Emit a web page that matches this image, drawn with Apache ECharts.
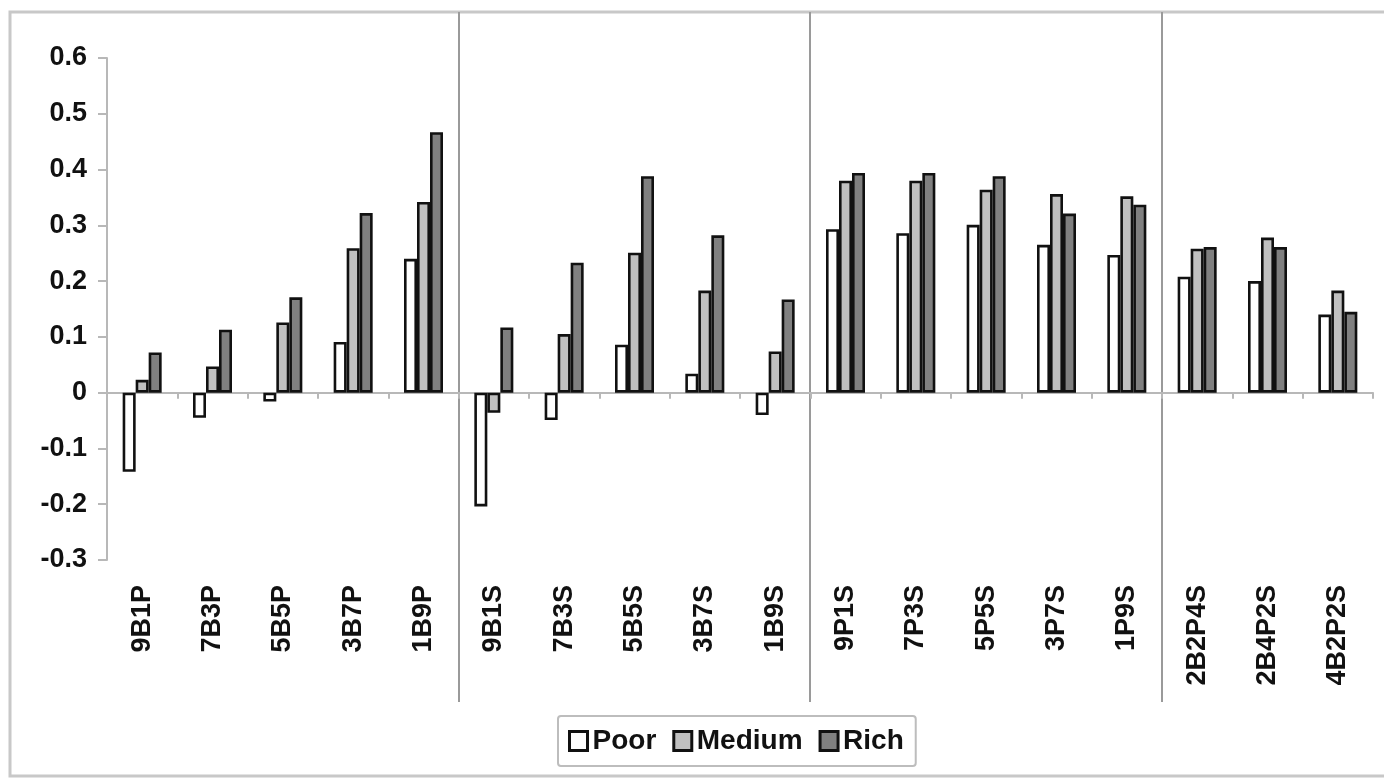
<!DOCTYPE html>
<html>
<head>
<meta charset="utf-8">
<script src="https://cdn.jsdelivr.net/npm/echarts@6/dist/echarts.min.js"></script>
<style>
	html, body { margin: 0; padding: 0; background: #fff; }
	#chart { width: 1384px; height: 778px; }
</style>
</head>
<body>
<div id="chart"></div>
<script>
const categories = [
	"9B1P", "7B3P", "5B5P", "3B7P", "1B9P",
	"9B1S", "7B3S", "5B5S", "3B7S", "1B9S",
	"9P1S", "7P3S", "5P5S", "3P7S", "1P9S",
	"2B2P4S", "2B4P2S", "4B2P2S"
];
const poor = [
	-0.142, -0.045, -0.016, 0.091, 0.240,
	-0.204, -0.049, 0.086, 0.034, -0.040,
	0.293, 0.286, 0.301, 0.265, 0.247,
	0.208, 0.200, 0.140
];
const medium = [
	0.023, 0.047, 0.126, 0.259, 0.342,
	-0.036, 0.105, 0.251, 0.183, 0.074,
	0.380, 0.380, 0.364, 0.356, 0.352,
	0.258, 0.278, 0.183
];
const rich = [
	0.072, 0.113, 0.171, 0.322, 0.467,
	0.117, 0.233, 0.388, 0.282, 0.167,
	0.394, 0.394, 0.388, 0.321, 0.337,
	0.261, 0.261, 0.145
];
// index where each new group of categories starts
const groupStarts = [5, 10, 15];

const font = "Liberation Sans, Arial, sans-serif";
const textColor = "#111";

const chart = echarts.init(document.getElementById("chart"));

function barSeries(name, data, color) {
	return {
		name: name,
		type: "bar",
		xAxisIndex: 0,
		data: data,
		barWidth: 13,
		barGap: "0%",
		itemStyle: {
			color: color,
			borderColor: "#111",
			borderWidth: 2.6
		}
	};
}

const option = {
	animation: false,
	backgroundColor: "#fff",
	grid: {
		left: 107,
		right: 11,
		top: 58,
		bottom: 218
	},
	legend: {
		left: 558,
		top: 716,
		padding: [11, 12, 11, 10],
		borderColor: "#bdbdbd",
		borderWidth: 2,
		borderRadius: 3,
		itemWidth: 18,
		itemHeight: 19,
		itemGap: 16,
		icon: "rect",
		itemStyle: {
			borderColor: "#111",
			borderWidth: 3
		},
		textStyle: {
			fontFamily: font,
			fontWeight: "bold",
			fontSize: 28,
			color: textColor,
			padding: [0, 0, 0, 0]
		},
		data: ["Poor", "Medium", "Rich"]
	},
	xAxis: [
		{
			type: "category",
			position: "bottom",
			data: categories,
			axisLine: {
				onZero: true,
				lineStyle: { color: "#b8b8b8", width: 2 }
			},
			axisTick: {
				show: true,
				length: 6,
				lineStyle: { color: "#b8b8b8", width: 2 }
			},
			axisLabel: { show: false },
			splitLine: { show: false }
		},
		{
			type: "category",
			position: "bottom",
			data: categories,
			axisLine: { show: false, onZero: false },
			axisTick: { show: false },
			axisLabel: {
				rotate: 90,
				margin: 25,
				fontFamily: font,
				fontWeight: "bold",
				fontSize: 27,
				color: textColor
			}
		}
	],
	yAxis: {
		type: "value",
		min: -0.3,
		max: 0.6,
		interval: 0.1,
		axisLine: {
			show: true,
			lineStyle: { color: "#b8b8b8", width: 2 }
		},
		axisTick: {
			show: true,
			length: 9,
			lineStyle: { color: "#b8b8b8", width: 2 }
		},
		splitLine: { show: false },
		axisLabel: {
			margin: 20,
			fontFamily: font,
			fontWeight: "bold",
			fontSize: 27,
			color: textColor,
			formatter: function (v) {
				return String(Math.round(v * 10) / 10);
			}
		}
	},
	series: [
		barSeries("Poor", poor, "#ffffff"),
		barSeries("Medium", medium, "#c0c0c0"),
		barSeries("Rich", rich, "#808080")
	]
};

chart.setOption(option);

// frame and group separators, placed from the category axis
const graphics = [
	{
		type: "rect",
		silent: true,
		shape: { x: 10, y: 12, width: 1380, height: 764 },
		style: { fill: null, stroke: "#c8c8c8", lineWidth: 3 }
	}
];
groupStarts.forEach(function (i) {
	const a = chart.convertToPixel({ xAxisIndex: 0 }, i - 1);
	const b = chart.convertToPixel({ xAxisIndex: 0 }, i);
	const x = Math.round((a + b) / 2);
	graphics.push({
		type: "line",
		silent: true,
		shape: { x1: x, y1: 12, x2: x, y2: 702 },
		style: { stroke: "#9a9a9a", lineWidth: 2 }
	});
});
chart.setOption({ graphic: graphics });
</script>
</body>
</html>
